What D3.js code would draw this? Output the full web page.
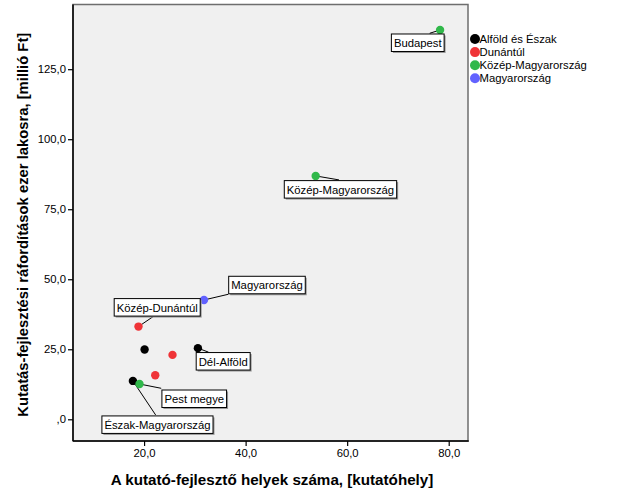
<!DOCTYPE html>
<html><head><meta charset="utf-8">
<script src="https://cdn.jsdelivr.net/npm/d3@7"></script>
<style>body{margin:0;background:#fff}svg{display:block}text{font-family:"Liberation Sans",Arial,sans-serif}</style>
</head><body>
<script>
const names = ["Budapest","Közép-Magyarország","Magyarország","Közép-Dunántúl","Észak-Alföld","Dél-Dunántúl","Dél-Alföld","Nyugat-Dunántúl","Észak-Magyarország","Pest megye"];
const xValues = [78.3, 53.8, 31.8, 18.9, 20.1, 25.6, 30.6, 22.2, 17.8, 19.1];
const yValues = [139.0, 86.9, 42.6, 33.1, 24.9, 23.0, 25.4, 15.7, 13.7, 12.6];
const groups = ["Közép-Magyarország","Közép-Magyarország","Magyarország","Dunántúl","Alföld és Észak","Dunántúl","Alföld és Észak","Dunántúl","Alföld és Észak","Közép-Magyarország"];
const legendGroups = ["Alföld és Észak","Dunántúl","Közép-Magyarország","Magyarország"];
const groupColors = ["#000000","#ef3337","#30b84a","#6262ff"];
const xTicks = [20,40,60,80];
const yTicks = [0,25,50,75,100,125];
const xTitle = "A kutató-fejlesztő helyek száma, [kutatóhely]";
const yTitle = "Kutatás-fejlesztési ráfordítások ezer lakosra, [millió Ft]";
const labeled = ["Budapest","Közép-Magyarország","Magyarország","Közép-Dunántúl","Dél-Alföld","Pest megye","Észak-Magyarország"];
// label box layout (pixel offsets from point): box top-left, leader end
const labelLayout = {
  "Budapest": {bx:-48.7, by:4, lx:-10.4, ly:3.3},
  "Közép-Magyarország": {bx:-31.4, by:4.7, lx:23.3, ly:4},
  "Magyarország": {bx:24.7, by:-23.7, lx:24.3, ly:-5.7},
  "Közép-Dunántúl": {bx:-24.3, by:-28, lx:15.7, ly:-10.7},
  "Dél-Alföld": {bx:-1.7, by:4.4, lx:10.6, ly:4},
  "Pest megye": {bx:22.4, by:6, lx:21.7, ly:4.3},
  "Észak-Magyarország": {bx:-31, by:35, lx:22.7, ly:34}
};

const W = 626, H = 501;
const L = 73, R = 468, T = 4.5, B = 441;
const svg = d3.select("body").append("svg").attr("width", W).attr("height", H);
const fmt2 = v => v === 0 ? ",0" : d3.format(".1f")(v).replace(".", ",");

const x = d3.scaleLinear().domain([6.0, 83.8]).range([L, R]);
const y = d3.scaleLinear().domain([-7.75, 148.1]).range([B, T]);
const color = d3.scaleOrdinal().domain(legendGroups).range(groupColors);

svg.append("rect").attr("x", L).attr("y", T).attr("width", R - L).attr("height", B - T)
  .attr("fill", "#f0f0f0").attr("stroke", "#6e6e6e").attr("stroke-width", 1.5);

const xAxis = svg.append("g").attr("transform", `translate(0,${B})`)
  .call(d3.axisBottom(x).tickValues(xTicks).tickFormat(fmt2).tickSize(5).tickSizeOuter(0).tickPadding(3));
const yAxis = svg.append("g").attr("transform", `translate(${L},0)`)
  .call(d3.axisLeft(y).tickValues(yTicks).tickFormat(fmt2).tickSize(5).tickSizeOuter(0).tickPadding(2));
[xAxis, yAxis].forEach(g => {
  g.select(".domain").remove();
  g.selectAll("text").attr("font-size", 11.3).attr("fill", "#000").attr("font-family", '"Liberation Sans",Arial,sans-serif');
  g.selectAll("line").attr("stroke", "#000").attr("stroke-width", 1.2);
});
svg.append("line").attr("x1", L).attr("x2", L).attr("y1", T).attr("y2", B).attr("stroke", "#000").attr("stroke-width", 1.5);
svg.append("line").attr("x1", L).attr("x2", R + 0.75).attr("y1", B).attr("y2", B).attr("stroke", "#000").attr("stroke-width", 1.5);

svg.append("text").attr("x", (L + R) / 2 + 1.5).attr("y", 485).attr("text-anchor", "middle")
  .attr("font-size", 15.2).attr("font-weight", "bold").text(xTitle);
svg.append("text").attr("transform", `translate(27.5,${(T + B) / 2 + 2}) rotate(-90)`).attr("text-anchor", "middle")
  .attr("font-size", 14.8).attr("font-weight", "bold").text(yTitle);

const data = names.map((n, i) => ({name: n, x: xValues[i], y: yValues[i], g: groups[i]}));
const order = data.slice().sort((a, b) => legendGroups.indexOf(a.g) - legendGroups.indexOf(b.g));

// leader lines
const lab = data.filter(d => labeled.includes(d.name));
svg.append("g").selectAll("line").data(lab).join("line")
  .attr("x1", d => x(d.x)).attr("y1", d => y(d.y))
  .attr("x2", d => x(d.x) + labelLayout[d.name].lx).attr("y2", d => y(d.y) + labelLayout[d.name].ly)
  .attr("stroke", "#000").attr("stroke-width", 1);

svg.append("g").selectAll("circle").data(order).join("circle")
  .attr("cx", d => x(d.x)).attr("cy", d => y(d.y)).attr("r", 4.2)
  .attr("fill", d => color(d.g));

// label boxes
const lg = svg.append("g").selectAll("g").data(lab).join("g")
  .attr("transform", d => `translate(${x(d.x) + labelLayout[d.name].bx},${y(d.y) + labelLayout[d.name].by})`);
lg.each(function(d) {
  const g = d3.select(this);
  const t = g.append("text").attr("x", 2.5).attr("y", 13).attr("font-size", 11.3).text(d.name);
  const w = t.node().getComputedTextLength() + 5;
  g.insert("rect", "text").attr("x", 1.5).attr("y", 1.5).attr("width", w).attr("height", 17.5).attr("fill", "#9a9a9a");
  g.insert("rect", "text").attr("x", 0).attr("y", 0).attr("width", w).attr("height", 17.5)
    .attr("fill", "#fff").attr("stroke", "#000").attr("stroke-width", 1);
});

// legend
const leg = svg.append("g").selectAll("g").data(legendGroups).join("g")
  .attr("transform", (d, i) => `translate(475,${39 + i * 13.1})`);
leg.append("circle").attr("r", 5).attr("fill", d => color(d));
leg.append("text").attr("x", 4.5).attr("y", 4).attr("font-size", 11.3).text(d => d);
</script>
</body></html>
